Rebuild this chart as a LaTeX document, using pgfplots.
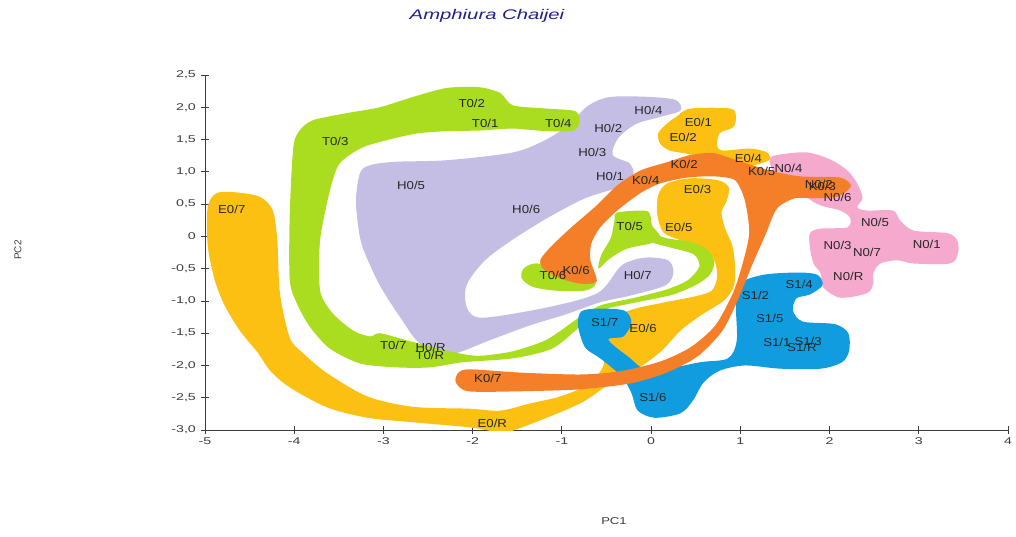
\documentclass[border=0pt]{standalone}
\usepackage{pgfplots}
\pgfplotsset{compat=1.18}
\usepackage{fontspec}
\setmainfont{Liberation Sans}

\definecolor{lav}{RGB}{196,189,228}
\definecolor{tgreen}{RGB}{170,221,32}
\definecolor{eyellow}{RGB}{252,192,18}
\definecolor{korange}{RGB}{245,126,40}
\definecolor{npink}{RGB}{245,169,205}
\definecolor{sblue}{RGB}{16,156,222}
\definecolor{titleblue}{RGB}{32,32,140}
\definecolor{axisgray}{RGB}{60,60,60}
\definecolor{labgray}{RGB}{40,40,40}

\begin{document}
\begin{tikzpicture}
\begin{axis}[
  scale only axis, width=803pt, height=355pt,
  xmin=-5, xmax=4, ymin=-3, ymax=2.5,
  axis x line*=bottom, axis y line*=left,
  axis line style={-, draw=axisgray, line width=0.8pt},
  xtick={-5,-4,...,4}, xticklabels={-5,-4,-3,-2,-1,0,1,2,3,4},
  ytick={-3,-2.5,...,2.5},
  yticklabels={{-3,0},{-2,5},{-2,0},{-1,5},{-1,0},{-0,5},0,{0,5},{1,0},{1,5},{2,0},{2,5}},
  tick align=center, major tick length=8pt,
  tick style={draw=axisgray, line width=0.8pt},
  every tick label/.append style={font=\fontsize{9.8}{11}\selectfont, text=axisgray, xscale=1.45},
  title={\itshape Amphiura Chaijei},
  title style={at={(rel axis cs:0.3512,1.1493)}, anchor=center, yshift=0pt,
    font=\fontsize{14}{16}\selectfont, text=titleblue, xscale=1.45},
  xlabel={PC1}, ylabel={PC2},
  xlabel style={at={(rel axis cs:0.5093,-0.2563)}, anchor=center,
    font=\fontsize{10}{12}\selectfont, text=axisgray, xscale=1.3},
  ylabel style={at={(rel axis cs:-0.2329,0.507)}, anchor=center,
    font=\fontsize{10}{12}\selectfont, text=axisgray},
]

% H group
\addplot[smooth cycle, tension=0.5, draw=none, fill=lav] coordinates {
(-3.30,0.71) (-3.23,1.05) (-2.93,1.15) (-2.29,1.18) (-1.55,1.30) (-1.19,1.49)
(-0.93,1.72) (-0.71,2.02) (-0.46,2.16) (-0.01,2.16) (0.28,2.11) (0.33,1.95)
(0.10,1.85) (-0.17,1.74) (-0.37,1.52) (-0.43,1.26) (-0.24,1.13) (-0.20,0.95)
(-0.33,0.78) (-0.74,0.59) (-1.13,0.31) (-1.53,-0.03) (-1.86,-0.37) (-2.07,-0.76)
(-2.06,-1.12) (-1.88,-1.26) (-1.13,-1.09) (-0.59,-0.87) (-0.33,-0.45) (-0.07,-0.33)
(0.19,-0.37) (0.25,-0.56) (0.16,-0.76) (-0.24,-0.92) (-0.57,-1.02) (-0.96,-1.21)
(-1.36,-1.38) (-1.81,-1.61) (-2.16,-1.80) (-2.37,-1.83) (-2.61,-1.64) (-2.79,-1.30)
(-3.04,-0.76) (-3.24,-0.14) (-3.30,0.36)
};

% E group: long band E0/7 - E0/R - E0/6 - E0/5 - E0/3
\addplot[smooth cycle, tension=0.5, draw=none, fill=eyellow] coordinates {
(-4.97,0.45) (-4.87,0.67) (-4.64,0.68) (-4.38,0.61) (-4.24,0.40) (-4.19,-0.06)
(-4.16,-0.88) (-4.05,-1.57) (-3.90,-1.81) (-3.63,-2.12) (-3.18,-2.48) (-2.67,-2.64)
(-2.03,-2.67) (-1.69,-2.70) (-1.36,-2.59) (-1.02,-2.48) (-0.71,-2.30) (-0.54,-2.02)
(-0.49,-1.61) (-0.42,-1.27) (-0.18,-1.12) (0.16,-1.02) (0.49,-0.93) (0.68,-0.84)
(0.74,-0.62) (0.70,-0.34) (0.55,-0.17) (0.33,-0.06) (0.14,0.06) (0.07,0.33)
(0.08,0.64) (0.18,0.82) (0.44,0.90) (0.75,0.87) (0.87,0.76) (0.85,0.56)
(0.79,0.37) (0.83,0.12) (0.91,-0.14) (0.94,-0.45) (0.93,-0.76) (0.82,-0.99)
(0.55,-1.23) (0.33,-1.46) (0.12,-1.77) (-0.12,-2.02) (-0.44,-2.26) (-0.77,-2.57)
(-1.17,-2.81) (-1.55,-3.01) (-1.69,-3.04) (-2.03,-2.96) (-2.67,-2.88) (-3.18,-2.81)
(-3.63,-2.65) (-4.05,-2.34) (-4.27,-2.08) (-4.41,-1.80) (-4.61,-1.46) (-4.78,-1.07)
(-4.89,-0.68) (-4.97,-0.14)
};
% E group: E0/1, E0/2, E0/4
\addplot[smooth cycle, tension=0.5, draw=none, fill=eyellow] coordinates {
(0.29,1.86) (0.44,1.98) (0.89,1.98) (0.95,1.85) (0.92,1.69) (0.77,1.60)
(0.74,1.40) (0.81,1.33) (1.11,1.36) (1.30,1.30) (1.32,1.18) (1.11,1.09)
(0.85,1.09) (0.66,1.18) (0.44,1.27) (0.21,1.33) (0.10,1.44) (0.08,1.60)
(0.18,1.75)
};

% T group: main band with its tail and loop
\addplot[smooth cycle, tension=0.45, draw=none, fill=tgreen] coordinates {
(-4.01,1.38) (-3.94,1.64) (-3.79,1.80) (-3.41,1.91) (-3.04,2.00) (-2.67,2.16)
(-2.29,2.30) (-1.92,2.31) (-1.69,2.22) (-1.55,2.03) (-1.17,1.98) (-0.85,1.94)
(-0.80,1.78) (-0.87,1.64) (-1.17,1.63) (-1.55,1.67) (-1.92,1.64) (-2.29,1.63)
(-2.59,1.60) (-2.85,1.53) (-3.23,1.38) (-3.49,1.13) (-3.60,0.71) (-3.71,-0.06)
(-3.71,-0.84) (-3.57,-1.19) (-3.34,-1.46) (-3.15,-1.55) (-3.04,-1.50) (-2.74,-1.61)
(-2.44,-1.72) (-2.16,-1.81) (-1.92,-1.85) (-1.55,-1.78) (-1.17,-1.60) (-0.82,-1.27)
(-0.57,-1.07) (-0.18,-0.95) (0.18,-0.82) (0.41,-0.68) (0.54,-0.47) (0.48,-0.28)
(0.21,-0.17) (0.01,-0.09) (-0.03,0.06) (0.18,-0.03) (0.46,-0.09) (0.64,-0.22)
(0.71,-0.40) (0.66,-0.59) (0.52,-0.74) (0.25,-0.90) (-0.12,-1.01) (-0.44,-1.10)
(-0.63,-1.19) (-0.80,-1.40) (-1.11,-1.74) (-1.55,-1.89) (-2.11,-1.95) (-2.48,-2.03)
(-2.85,-2.03) (-3.26,-1.97) (-3.60,-1.74) (-3.82,-1.41) (-3.96,-1.07) (-4.05,-0.68)
(-4.05,0.36)
};
% T group: T0/5
\addplot[smooth cycle, tension=0.45, draw=none, fill=tgreen] coordinates {
(-0.38,0.37) (-0.04,0.39) (0.01,0.17) (0.10,0.00) (-0.01,-0.11) (-0.27,-0.19)
(-0.46,-0.34) (-0.59,-0.50) (-0.56,-0.29) (-0.45,-0.02) (-0.41,0.25)
};
% T group: T0/6
\addplot[smooth cycle, tension=0.5, draw=none, fill=tgreen] coordinates {
(-1.43,-0.50) (-1.30,-0.42) (-1.02,-0.47) (-0.74,-0.57) (-0.62,-0.73)
(-0.74,-0.84) (-1.08,-0.84) (-1.33,-0.78) (-1.45,-0.65)
};

% N group
\addplot[smooth cycle, tension=0.5, draw=none, fill=npink] coordinates {
(1.33,1.21) (1.45,1.27) (1.75,1.30) (2.01,1.19) (2.20,1.02) (2.31,0.82)
(2.37,0.60) (2.31,0.45) (2.42,0.40) (2.71,0.40) (2.79,0.25) (2.94,0.09)
(3.32,0.05) (3.43,-0.06) (3.44,-0.26) (3.35,-0.42) (2.94,-0.42) (2.76,-0.37)
(2.57,-0.42) (2.49,-0.57) (2.49,-0.73) (2.42,-0.88) (2.12,-0.95) (1.93,-0.79)
(1.90,-0.57) (1.82,-0.42) (1.78,-0.17) (1.78,0.05) (1.90,0.12) (2.20,0.14)
(2.23,0.29) (2.12,0.40) (1.90,0.48) (1.75,0.60) (1.56,0.87) (1.37,1.02)
};

% S group
\addplot[smooth cycle, tension=0.5, draw=none, fill=sblue] coordinates {
(-0.78,-1.16) (-0.57,-1.12) (-0.30,-1.15) (-0.22,-1.33) (-0.31,-1.55) (-0.48,-1.60)
(-0.26,-1.86) (-0.01,-2.08) (0.55,-1.95) (0.86,-1.89) (0.96,-1.61) (0.95,-0.99)
(1.02,-0.71) (1.28,-0.59) (1.67,-0.56) (1.87,-0.60) (1.92,-0.76) (1.78,-0.90)
(1.63,-0.96) (1.59,-1.15) (1.70,-1.32) (2.06,-1.36) (2.21,-1.50) (2.22,-1.77)
(2.14,-1.95) (1.90,-2.05) (1.45,-2.05) (1.05,-2.00) (0.77,-2.08) (0.59,-2.26)
(0.47,-2.54) (0.33,-2.74) (0.04,-2.81) (-0.15,-2.70) (-0.22,-2.43) (-0.33,-2.17)
(-0.57,-1.89) (-0.74,-1.72) (-0.82,-1.38)
};

% K group
\addplot[smooth cycle, tension=0.45, draw=none, fill=korange] coordinates {
(-2.16,-2.11) (-2.03,-2.06) (-1.47,-2.11) (-0.80,-2.14) (-0.35,-2.09) (0.10,-1.94)
(0.44,-1.72) (0.72,-1.38) (0.92,-0.87) (1.03,-0.40) (1.10,0.06) (1.05,0.56)
(0.94,0.87) (0.70,0.93) (0.40,0.91) (0.10,0.82) (-0.12,0.67) (-0.38,0.40)
(-0.57,0.14) (-0.67,-0.11) (-0.68,-0.37) (-0.61,-0.70) (-0.80,-0.73) (-1.02,-0.65)
(-1.21,-0.50) (-1.24,-0.36) (-1.13,-0.17) (-0.91,0.12) (-0.61,0.48) (-0.38,0.79)
(-0.12,1.02) (0.18,1.15) (0.44,1.26) (0.70,1.29) (0.96,1.18) (1.33,1.02)
(1.67,0.93) (2.12,0.91) (2.24,0.78) (2.10,0.62) (1.84,0.59) (1.61,0.59)
(1.41,0.43) (1.28,0.02) (1.13,-0.45) (0.98,-0.96) (0.80,-1.46) (0.52,-1.86)
(0.16,-2.12) (-0.24,-2.28) (-0.80,-2.37) (-1.47,-2.40) (-2.05,-2.40) (-2.19,-2.26)
};

% sample labels
\addplot[only marks, mark=none, nodes near coords, point meta=explicit symbolic,
  nodes near coords align=center,
  every node near coord/.append style={font=\fontsize{11.5}{13}\selectfont,
    text=labgray, xscale=1.15, inner sep=0pt}]
  table[meta=lab] {
x y lab
-2.01 2.06 T0/2
-1.86 1.75 T0/1
-1.04 1.75 T0/4
-3.54 1.47 T0/3
-0.03 1.95 H0/4
-0.48 1.67 H0/2
-0.66 1.30 H0/3
-0.46 0.93 H0/1
-2.69 0.79 H0/5
-1.40 0.42 H0/6
-4.70 0.42 E0/7
0.53 1.77 E0/1
0.36 1.53 E0/2
1.09 1.21 E0/4
0.37 1.12 K0/2
-0.06 0.87 K0/4
1.24 1.01 K0/5
1.54 1.05 N0/4
1.88 0.81 N0/2
1.92 0.78 K0/3
2.09 0.60 N0/6
0.52 0.73 E0/3
0.31 0.14 E0/5
-0.24 0.16 T0/5
2.51 0.22 N0/5
2.09 -0.14 N0/3
2.42 -0.25 N0/7
3.09 -0.12 N0/1
2.21 -0.62 N0/R
-0.84 -0.53 K0/6
-1.10 -0.60 T0/6
-0.15 -0.60 H0/7
1.66 -0.74 S1/4
1.17 -0.91 S1/2
1.33 -1.27 S1/5
1.41 -1.64 S1/1
1.76 -1.63 S1/3
1.69 -1.72 S1/R
-0.52 -1.33 S1/7
-0.09 -1.43 E0/6
0.02 -2.50 S1/6
-2.89 -1.69 T0/7
-2.47 -1.72 H0/R
-2.48 -1.84 T0/R
-1.83 -2.20 K0/7
-1.78 -2.90 E0/R
};

\coordinate (bbsw) at (rel axis cs:-0.2553,-0.2986);
\coordinate (bbne) at (rel axis cs:1.00996,1.2113);
\end{axis}
\pgfresetboundingbox
\useasboundingbox (bbsw) rectangle (bbne);
\end{tikzpicture}
\end{document}
